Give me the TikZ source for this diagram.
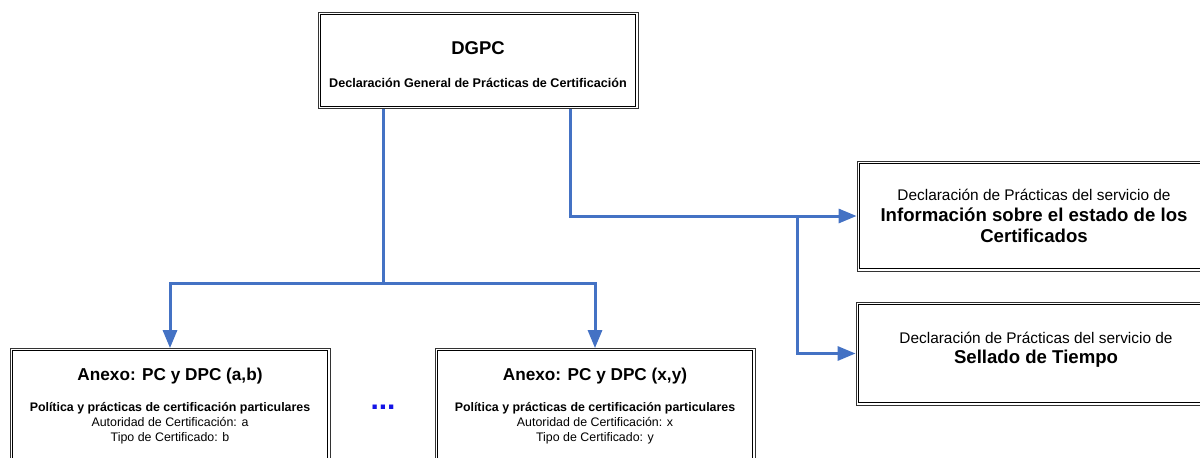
\documentclass[tikz,border=0pt]{standalone}
\usepackage{fontspec}
\setmainfont{Liberation Sans}
\usetikzlibrary{arrows.meta}
\definecolor{conn}{RGB}{68,114,196}
\definecolor{dots}{RGB}{20,20,230}
\tikzset{
  dbox/.style={draw=black!80, line width=0.8pt, fill=white, rectangle, inner sep=0pt},
  inbox/.style={draw=black, line width=0.8pt},
  conline/.style={draw=conn, line width=3pt},
  conarrow/.style={conline, -{Triangle[length=18pt,width=14pt]}},
  txt/.style={align=center, inner sep=0pt, text=black}
}
\newcommand{\innerframe}[1]{\draw[inbox] ([shift={(2.6,2.6)}]#1.north west) rectangle ([shift={(-2.6,-2.6)}]#1.south east);}
\begin{document}
\begin{tikzpicture}[x=1pt,y=-1pt]
\useasboundingbox (0,0) rectangle (1200,458);
\clip (0,0) rectangle (1200,458);
% boxes
\node[dbox, minimum width=320pt, minimum height=96pt] (dgpc) at (478,60.5) {};
\node[dbox, minimum width=320pt, minimum height=125pt] (ab) at (170,411) {};
\node[dbox, minimum width=320pt, minimum height=125pt] (xy) at (595,411) {};
\node[dbox, minimum width=356pt, minimum height=110pt] (info) at (1035,216) {};
\node[dbox, minimum width=358pt, minimum height=103pt] (sell) at (1035,353.5) {};
\innerframe{dgpc}
\innerframe{ab}
\innerframe{xy}
\innerframe{info}
\innerframe{sell}
% texts
\node[txt, font=\bfseries\fontsize{18.5}{21}\selectfont] (t1) at (478,48) {DGPC};
\node[txt, font=\bfseries\fontsize{12.6}{14}\selectfont] (t2) at (478,83) {Declaración General de Prácticas de Certificación};
\node[txt, font=\bfseries\fontsize{17.2}{20}\selectfont] (a1) at (170,376) {Anexo: PC y DPC (a,b)};
\node[txt, font=\fontsize{12.4}{15}\selectfont, anchor=north] (a2) at (170,402) {\textbf{Política y prácticas de certificación particulares}\\Autoridad de Certificación: a\\Tipo de Certificado: b};
\node[txt, font=\bfseries\fontsize{17.2}{20}\selectfont] (x1) at (595,376) {Anexo: PC y DPC (x,y)};
\node[txt, font=\fontsize{12.4}{15}\selectfont, anchor=north] (x2) at (595,402) {\textbf{Política y prácticas de certificación particulares}\\Autoridad de Certificación: x\\Tipo de Certificado: y};
\node[txt, font=\fontsize{15.4}{21}\selectfont] (i1) at (1034,216) {Declaración de Prácticas del servicio de\\{\bfseries\fontsize{18.6}{21}\selectfont Información sobre el estado de los}\\{\bfseries\fontsize{18.6}{21}\selectfont Certificados}};
\node[txt, font=\fontsize{15.4}{20}\selectfont] (s1) at (1036,350) {Declaración de Prácticas del servicio de\\{\bfseries\fontsize{18.6}{20}\selectfont Sellado de Tiempo}};
\node[txt, text=dots, font=\bfseries\fontsize{30}{30}\selectfont, anchor=base] (dd) at (383,409) {...};
% connectors
\coordinate (j1) at (383,283);
\coordinate (j2) at (570,215);
\coordinate (j3) at (797,215);
\draw[conline] (dgpc.south -| j1) -- (j1);
\draw[conarrow] (j1) -| (ab.north);
\draw[conarrow] (j1) -| (xy.north);
\draw[conarrow] (dgpc.south -| j2) |- (info.west);
\draw[conarrow] (j3) |- (sell.west);
\end{tikzpicture}
\end{document}
